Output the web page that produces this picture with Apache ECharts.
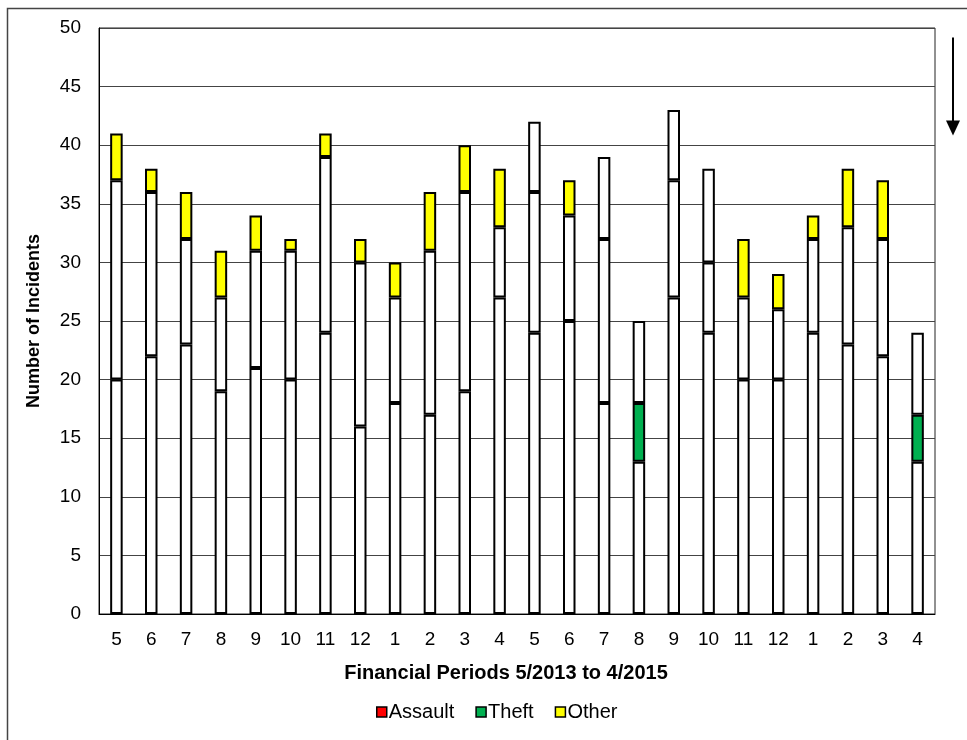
<!DOCTYPE html>
<html>
<head>
<meta charset="utf-8">
<script src="https://cdn.jsdelivr.net/npm/echarts@6/dist/echarts.min.js"></script>
<style>
  html, body { margin: 0; padding: 0; background: #fff; }
  #main { width: 967px; height: 740px; }
</style>
</head>
<body>
<div id="main"></div>
<script>
// financial periods 5/2013 .. 4/2015
const periods = ['5', '6', '7', '8', '9', '10', '11', '12', '1', '2', '3', '4',
  '5', '6', '7', '8', '9', '10', '11', '12', '1', '2', '3', '4'];

const assault = [20, 22, 23, 19, 21, 20, 24, 16, 18, 17, 19, 27,
  24, 25, 18, 13, 27, 24, 20, 20, 24, 23, 22, 13];
const theft = [17, 14, 9, 8, 10, 11, 15, 14, 9, 14, 17, 6,
  12, 9, 14, 5, 10, 6, 7, 6, 8, 10, 10, 4];
const other = [4, 2, 4, 4, 3, 1, 2, 2, 3, 5, 4, 5,
  6, 3, 7, 7, 6, 8, 5, 3, 2, 5, 5, 7];

// which segments are drawn filled in the picture (the rest are left white)
const theftFilled = [15, 23];
const otherBlank = [12, 14, 15, 16, 17, 23];

const RED = '#FF0000', GREEN = '#00B050', YELLOW = '#FFFF00';
const FONT = 'Liberation Sans, Arial, sans-serif';

let chart = echarts.init(document.getElementById('main'));

function seg(values, fillFn) {
  return values.map((v, i) => ({
    value: v,
    itemStyle: { color: fillFn(i) }
  }));
}

let barStyle = {
  borderColor: '#000',
  borderWidth: 2
};

let option = {
  backgroundColor: '#fff',
  animation: false,
  textStyle: { fontFamily: FONT },
  grid: {
    left: 99,
    right: 32,
    top: 28,
    bottom: 126,
    show: true,
    borderColor: '#222',
    borderWidth: 1
  },
  legend: {
    bottom: 13,
    left: 371,
    itemWidth: 10,
    itemHeight: 10,
    itemGap: 21,
    icon: 'rect',
    itemStyle: { borderColor: '#000', borderWidth: 1.5 },
    textStyle: { fontSize: 20, color: '#000', fontFamily: FONT, padding: [0, 0, 0, -3] },
    data: ['Assault', 'Theft', 'Other']
  },
  xAxis: {
    type: 'category',
    data: periods,
    name: 'Financial Periods 5/2013 to 4/2015',
    nameLocation: 'middle',
    nameGap: 49,
    nameTextStyle: { fontSize: 20, fontWeight: 'bold', color: '#000', padding: [0, 22, 0, 0] },
    axisLine: { lineStyle: { color: '#000', width: 1 } },
    axisTick: { show: false },
    axisLabel: { fontSize: 19, color: '#000', margin: 16 }
  },
  yAxis: {
    type: 'value',
    min: 0,
    max: 50,
    interval: 5,
    name: 'Number of Incidents',
    nameLocation: 'middle',
    nameGap: 56,
    nameTextStyle: { fontSize: 18, fontWeight: 'bold', color: '#000' },
    axisLine: { show: true, lineStyle: { color: '#000', width: 1 } },
    axisTick: { show: false },
    axisLabel: { fontSize: 19, color: '#000', margin: 18 },
    splitLine: { lineStyle: { color: '#444', width: 1 } }
  },
  series: [
    {
      name: 'Assault',
      type: 'bar',
      stack: 'inc',
      barWidth: 12.5,
      itemStyle: Object.assign({ color: RED }, barStyle),
      data: seg(assault, () => '#fff')
    },
    {
      name: 'Theft',
      type: 'bar',
      stack: 'inc',
      barWidth: 12.5,
      itemStyle: Object.assign({ color: GREEN }, barStyle),
      data: seg(theft, i => theftFilled.includes(i) ? GREEN : '#fff')
    },
    {
      name: 'Other',
      type: 'bar',
      stack: 'inc',
      barWidth: 12.5,
      itemStyle: Object.assign({ color: YELLOW }, barStyle),
      data: seg(other, i => otherBlank.includes(i) ? '#fff' : YELLOW)
    }
  ],
  graphic: [
    {
      // frame round the chart
      type: 'rect',
      left: 5,
      top: 6,
      shape: { width: 980, height: 760 },
      style: { fill: 'none', stroke: '#444', lineWidth: 1.5 },
      silent: true
    },
    {
      // down arrow at top right
      type: 'group',
      left: 946,
      top: 35,
      children: [
        { type: 'line', shape: { x1: 8, y1: 0, x2: 8, y2: 85 }, style: { stroke: '#000', lineWidth: 2 } },
        { type: 'polygon', shape: { points: [[1, 83], [15, 83], [8, 98]] }, style: { fill: '#000' } }
      ]
    }
  ]
};

chart.setOption(option);
</script>
</body>
</html>
